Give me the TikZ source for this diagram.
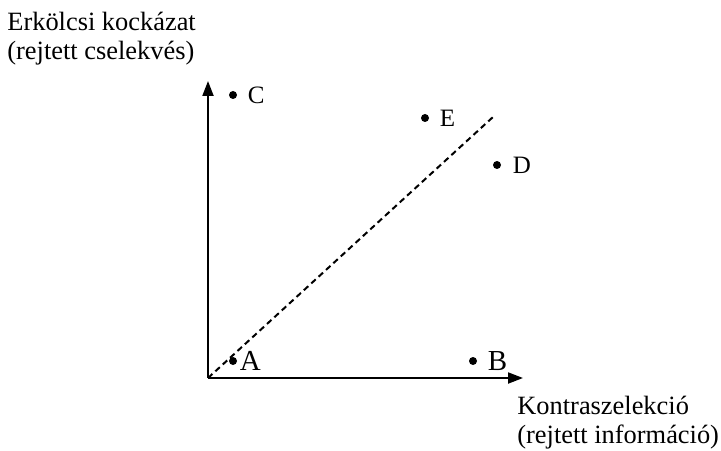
\documentclass[tikz,border=0pt]{standalone}
\usepackage{fontspec}
\setmainfont{Liberation Serif}
\usetikzlibrary{arrows.meta}

\begin{document}
\begin{tikzpicture}[x = 0.5pt, y = 0.5pt,
		axis/.style = {line width = 1pt, -{Triangle[length = 7.5pt, width = 5.5pt]}},
		dot/.style = {circle, fill, inner sep = 0pt, minimum size = 4pt},
		lbl/.style = {font = \fontsize{12.5}{14}\selectfont, inner sep = 0pt},
		biglbl/.style = {font = \fontsize{14.5}{16}\selectfont, inner sep = 0pt},
		axlbl/.style = {font = \fontsize{13.2}{14.5}\selectfont, inner sep = 0pt, align = left}]
	\useasboundingbox (0, 0) rectangle (721, 450);
	% axes
	\coordinate (O) at (208, 72);
	\coordinate (yend) at (208, 369);
	\coordinate (xend) at (523, 72);
	\draw[axis] (O) -- (yend);
	\draw[axis] (O) -- (xend);
	\node[axlbl, anchor = north west] (ylab) at (7, 438) {Erkölcsi kockázat\\(rejtett cselekvés)};
	\node[axlbl, anchor = north west] (xlab) at (517, 54) {Kontraszelekció\\(rejtett információ)};
	% diagonal
	\coordinate (dend) at (493, 333);
	\draw[line width = 1pt, dash pattern = on 3pt off 2pt] (O) -- (dend);
	% points
	\foreach \name/\x/\y/\st/\gap in {A/233/89/biglbl/1, B/473/89/biglbl/5, C/233/355/lbl/5, E/425/332/lbl/5, D/497/285/lbl/5.5} {
			\node[dot] (\name) at (\x, \y) {};
			\node[\st, anchor = west, xshift = \gap pt] (\name lab) at (\name.east) {\name};
		}
\end{tikzpicture}
\end{document}
